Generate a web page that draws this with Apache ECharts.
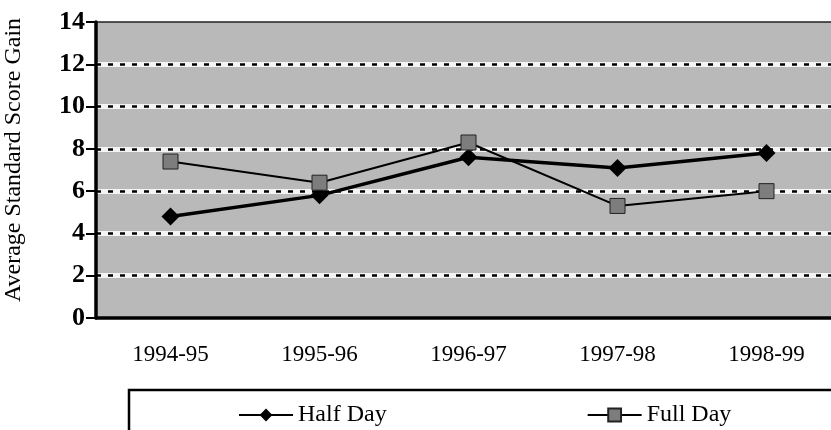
<!DOCTYPE html>
<html>
<head>
<meta charset="utf-8">
<title>Average Standard Score Gain</title>
<script src="https://cdn.jsdelivr.net/npm/echarts@6.0.0/dist/echarts.min.js"></script>
<style>
  html, body { margin: 0; padding: 0; background: #fff; }
  #chart { width: 831px; height: 430px; }
</style>
</head>
<body>
<div id="chart"></div>
<script>
// 数据
const years = ['1994-95', '1995-96', '1996-97', '1997-98', '1998-99'];
const halfDay = [4.8, 5.8, 7.6, 7.1, 7.8];
const fullDay = [7.4, 6.4, 8.3, 5.3, 6.0];
const seriesNames = ['Half Day', 'Full Day'];
const yTicks = [0, 2, 4, 6, 8, 10, 12, 14];

const font = 'Liberation Serif';
const chart = echarts.init(document.getElementById('chart'));

// gridlines: no line at 0 and 14
const whiteLines = yTicks.map((v, i) => (i === 0 || i === yTicks.length - 1) ? 'rgba(0,0,0,0)' : '#f4f4f4');
const blackLines = yTicks.map((v, i) => (i === 0 || i === yTicks.length - 1) ? 'rgba(0,0,0,0)' : '#000000');

const yBase = {
  type: 'value',
  min: yTicks[0],
  max: yTicks[yTicks.length - 1],
  interval: 2
};

const option = {
  animation: false,
  textStyle: { fontFamily: font },
  grid: {
    left: 96,
    top: 22,
    width: 745,
    height: 296,
    outerBoundsMode: 'none',
    containLabel: false,
    show: true,
    backgroundColor: '#b9b9b9',
    borderColor: '#222',
    borderWidth: 1.5
  },
  legend: {
    data: seriesNames,
    left: 233,
    top: 398,
    itemWidth: 54,
    itemHeight: 16,
    itemGap: 200,
    textStyle: { fontFamily: font, fontSize: 24, color: '#000' }
  },
  graphic: [
    {
      type: 'rect',
      shape: { x: 129, y: 390, width: 760, height: 100 },
      style: { fill: 'none', stroke: '#000', lineWidth: 2.5 },
      z: -1
    }
  ],
  xAxis: {
    type: 'category',
    data: years,
    boundaryGap: true,
    axisLine: { lineStyle: { color: '#000', width: 3.5 } },
    axisTick: { length: 8, lineStyle: { color: '#000', width: 2 } },
    axisLabel: { color: '#000', fontFamily: font, fontSize: 23, margin: 25 },
    splitLine: { show: false }
  },
  yAxis: [
    Object.assign({}, yBase, {
      name: 'Average Standard Score Gain',
      nameLocation: 'middle',
      nameGap: 70,
      nameRotate: 90,
      nameTextStyle: { color: '#000', fontFamily: font, fontSize: 24, padding: [0, 0, 0, 20] },
      axisLine: { show: true, lineStyle: { color: '#000', width: 3.5 } },
      axisTick: { show: true, length: 10, lineStyle: { color: '#000', width: 2 } },
      axisLabel: { color: '#000', fontFamily: font, fontSize: 26, fontWeight: 'bold', margin: 11 },
      splitLine: { show: true, lineStyle: { color: whiteLines, width: 5, type: 'solid' } }
    }),
    Object.assign({}, yBase, {
      position: 'left',
      axisLine: { show: false },
      axisTick: { show: false },
      axisLabel: { show: false },
      splitLine: { show: true, lineStyle: { color: blackLines, width: 2.5, type: [5, 7] } }
    })
  ],
  series: [
    {
      name: seriesNames[0],
      type: 'line',
      data: halfDay,
      symbol: 'diamond',
      symbolSize: 18,
      lineStyle: { color: '#000', width: 3.5 },
      itemStyle: { color: '#000' },
      z: 3
    },
    {
      name: seriesNames[1],
      type: 'line',
      data: fullDay,
      symbol: 'rect',
      symbolSize: 15,
      lineStyle: { color: '#000', width: 2 },
      itemStyle: { color: '#7d7d7d', borderColor: '#222', borderWidth: 1 },
      z: 4
    }
  ]
};

chart.setOption(option);
</script>
</body>
</html>
